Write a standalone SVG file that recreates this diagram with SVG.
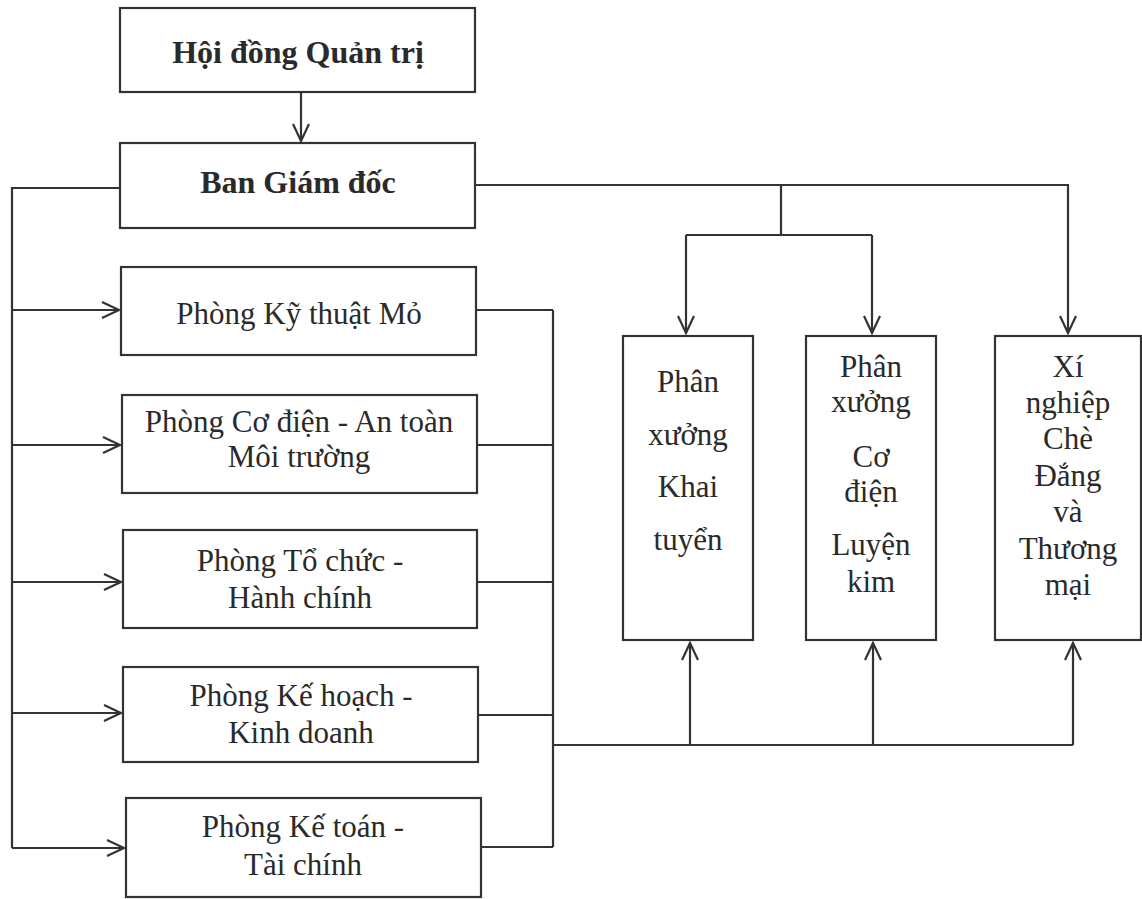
<svg xmlns="http://www.w3.org/2000/svg" width="1142" height="899" viewBox="0 0 1142 899">
<style>
.box{fill:#fff;stroke:#333;stroke-width:2.2}
.ln{fill:none;stroke:#333;stroke-width:2.2}
.t{font-family:"Liberation Serif","Times New Roman",serif;font-size:31px;fill:#2a2a2a;text-anchor:middle}
.b{font-weight:bold;font-size:32px}
</style>
<defs>
<marker id="ah" markerUnits="userSpaceOnUse" markerWidth="20" markerHeight="20" refX="18" refY="9" orient="auto" viewBox="0 0 20 18">
<path d="M1,1 L18,9 L1,17" fill="none" stroke="#333" stroke-width="2.2"/>
</marker>
</defs>
<rect width="1142" height="899" fill="#fff"/>
<g id="connectors">
<path class="ln" d="M301,92 V141" marker-end="url(#ah)"/>
<path class="ln" d="M120,188 H12 V848"/>
<path class="ln" d="M12,310 H119" marker-end="url(#ah)"/>
<path class="ln" d="M12,445 H120" marker-end="url(#ah)"/>
<path class="ln" d="M12,582 H121" marker-end="url(#ah)"/>
<path class="ln" d="M12,713 H121" marker-end="url(#ah)"/>
<path class="ln" d="M12,848 H124" marker-end="url(#ah)"/>
<path class="ln" d="M476,310 H553 M477,445 H553 M477,582 H553 M478,715 H553 M481,847 H553 M553,310 V847 M553,745 H1073"/>
<path class="ln" d="M690,745 V643" marker-end="url(#ah)"/>
<path class="ln" d="M873,745 V643" marker-end="url(#ah)"/>
<path class="ln" d="M1073,745 V643" marker-end="url(#ah)"/>
<path class="ln" d="M475,185 H1068 V333" marker-end="url(#ah)"/>
<path class="ln" d="M781,185 V235 M686,235 H872"/>
<path class="ln" d="M686,235 V333" marker-end="url(#ah)"/>
<path class="ln" d="M872,235 V333" marker-end="url(#ah)"/>
</g>
<g id="hdqt"><rect class="box" x="120" y="8" width="355" height="84"/><text class="t b" x="298" y="63">Hội đồng Quản trị</text></g>
<g id="bgd"><rect class="box" x="120" y="143" width="355" height="85"/><text class="t b" x="298" y="193">Ban Giám đốc</text></g>
<g id="p1"><rect class="box" x="121" y="267" width="355" height="88"/><text class="t" x="299" y="324">Phòng Kỹ thuật Mỏ</text></g>
<g id="p2"><rect class="box" x="122" y="395" width="355" height="98"/><text class="t" x="299" y="432">Phòng Cơ điện - An toàn</text><text class="t" x="299" y="467">Môi trường</text></g>
<g id="p3"><rect class="box" x="123" y="530" width="354" height="98"/><text class="t" x="300" y="571">Phòng Tổ chức -</text><text class="t" x="300" y="608">Hành chính</text></g>
<g id="p4"><rect class="box" x="123" y="667" width="355" height="95"/><text class="t" x="301" y="706">Phòng Kế hoạch -</text><text class="t" x="301" y="743">Kinh doanh</text></g>
<g id="p5"><rect class="box" x="126" y="798" width="355" height="99"/><text class="t" x="303" y="837">Phòng Kế toán -</text><text class="t" x="303" y="875">Tài chính</text></g>
<g id="pxkt"><rect class="box" x="623" y="336" width="130" height="304"/>
<text class="t" x="688" y="392">Phân</text><text class="t" x="688" y="445">xưởng</text><text class="t" x="688" y="497">Khai</text><text class="t" x="688" y="550">tuyển</text></g>
<g id="pxcd"><rect class="box" x="806" y="336" width="130" height="304"/>
<text class="t" x="871" y="377">Phân</text><text class="t" x="871" y="412">xưởng</text><text class="t" x="871" y="467">Cơ</text><text class="t" x="871" y="502">điện</text><text class="t" x="871" y="555">Luyện</text><text class="t" x="871" y="592">kim</text></g>
<g id="xn"><rect class="box" x="995" y="336" width="146" height="304"/>
<text class="t" x="1068" y="377">Xí</text><text class="t" x="1068" y="413">nghiệp</text><text class="t" x="1068" y="449">Chè</text><text class="t" x="1068" y="486">Đắng</text><text class="t" x="1068" y="522">và</text><text class="t" x="1068" y="559">Thương</text><text class="t" x="1068" y="595">mại</text></g>
</svg>
